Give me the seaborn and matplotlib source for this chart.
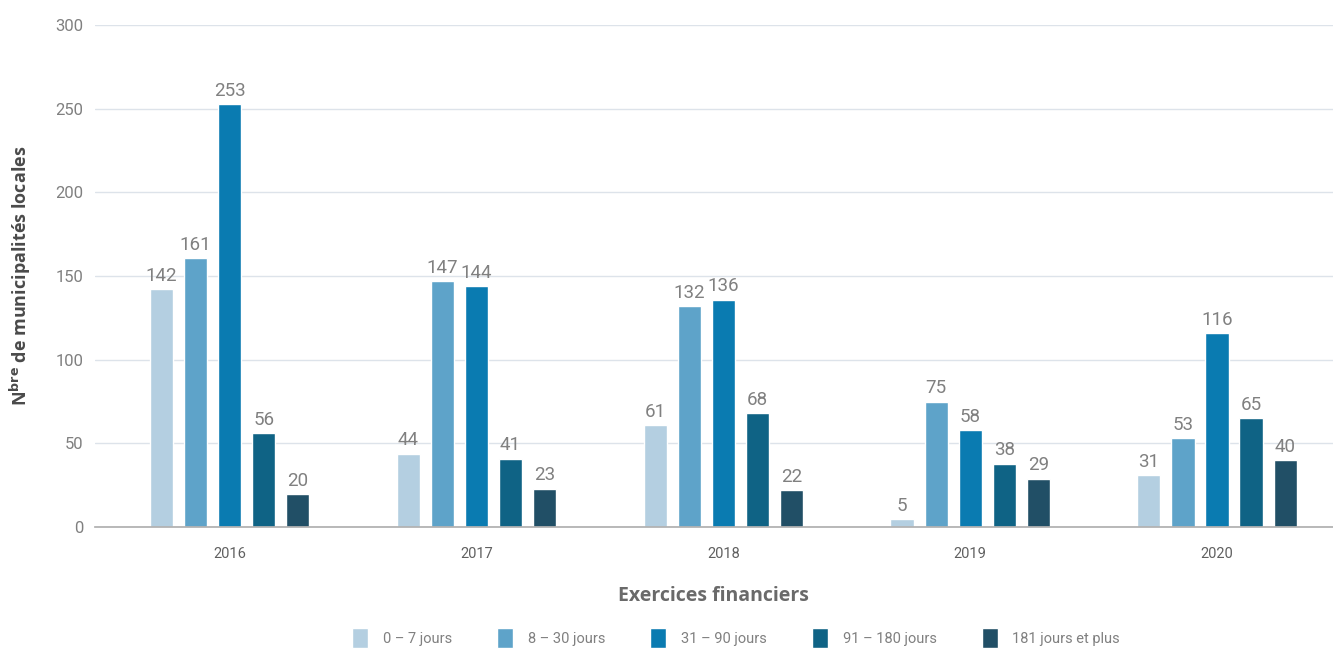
import numpy as np
import pandas as pd
import matplotlib
matplotlib.use("Agg")
import matplotlib.pyplot as plt
import seaborn as sns

years = ["2016", "2017", "2018", "2019", "2020"]
delays = ["0 – 7 jours", "8 – 30 jours", "31 – 90 jours", "91 – 180 jours", "181 jours et plus"]
v_0_7 = [142, 44, 61, 5, 31]
v_8_30 = [161, 147, 132, 75, 53]
v_31_90 = [253, 144, 136, 58, 116]
v_91_180 = [56, 41, 68, 38, 65]
v_181 = [20, 23, 22, 29, 40]
colors = ["#b4cfe1", "#5ea3c9", "#0a7bb1", "#0f6385", "#214f66"]

series = [v_0_7, v_8_30, v_31_90, v_91_180, v_181]
rows = []
for d, vals in zip(delays, series):
    for y, v in zip(years, vals):
        rows.append({"annee": y, "delai": d, "n": v})
df = pd.DataFrame(rows)

sns.set_theme(style="white")
plt.rcParams["font.family"] = ["Roboto", "DejaVu Sans"]

fig = plt.figure(figsize=(13.33, 6.5), dpi=100)
ax = fig.add_axes([0.071, 0.189, 0.929, 0.7725])

sns.barplot(data=df, x="annee", y="n", hue="delai", hue_order=delays,
            palette=colors, width=0.69, gap=0.32, saturation=1,
            ax=ax, legend=True)

for cont in ax.containers:
    ax.bar_label(cont, padding=3, color="#808080", fontsize=13.5)

ax.set_ylim(0, 300)
ax.set_xlim(-0.547, 4.47)
ax.set_yticks([0, 50, 100, 150, 200, 250, 300])
ax.yaxis.grid(True, color="#dde3ea", linewidth=1)
ax.set_axisbelow(True)
for s in ["top", "right", "left"]:
    ax.spines[s].set_visible(False)
ax.spines["bottom"].set_color("#b0b0b0")
ax.tick_params(axis="y", colors="#808080", labelsize=12, length=0, pad=8)
ax.tick_params(axis="x", colors="#606060", labelsize=10.5, length=0, pad=14)

ax.set_ylabel(r"N$^{\mathbf{bre}}$ de municipalités locales", fontsize=13,
              fontweight="bold", color="#4a4a4a",
              family=["Open Sans", "DejaVu Sans"])
ax.yaxis.set_label_coords(-0.05, 0.5)
ax.set_xlabel("Exercices financiers", fontsize=14, fontweight="bold",
              color="#6a6a6a", labelpad=18, family=["Open Sans", "DejaVu Sans"])

handles, labels = ax.get_legend_handles_labels()
ax.legend(handles, labels, loc="upper center", bbox_to_anchor=(0.518, -0.175),
          ncol=5, frameon=False, fontsize=10.5, handlelength=1.1, handleheight=1.7,
          columnspacing=3.1, handletextpad=1.0, labelcolor="#808080")

fig.savefig("out.png", dpi=100)
